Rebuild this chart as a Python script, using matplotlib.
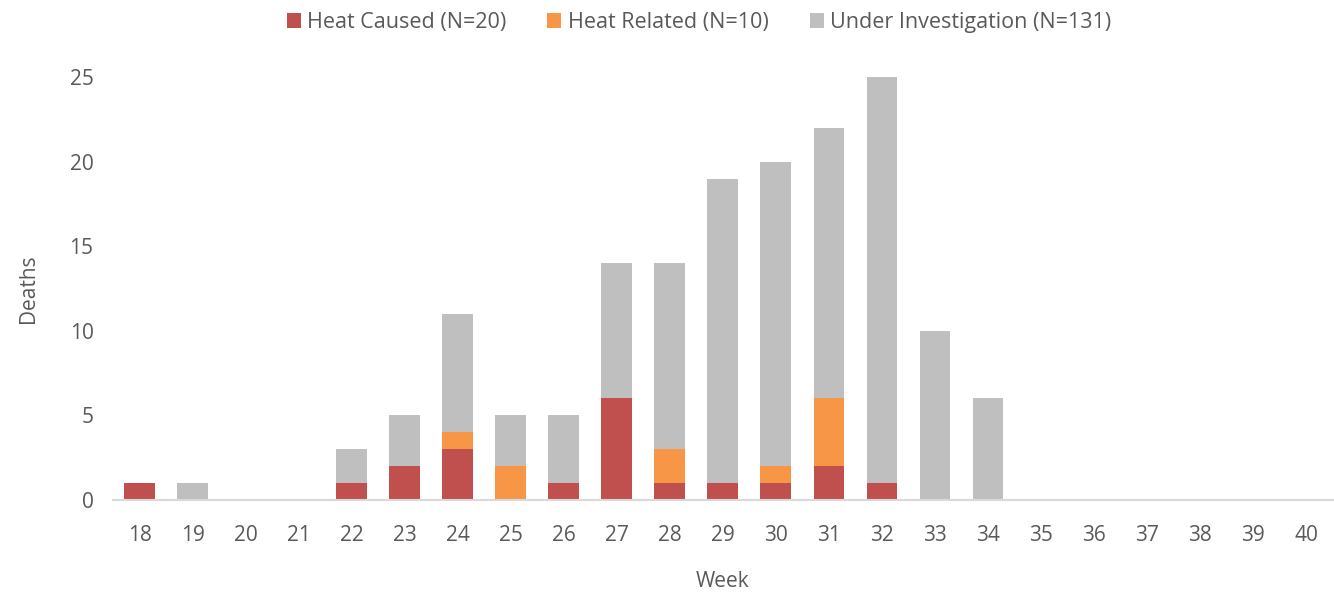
import matplotlib
matplotlib.use("Agg")
import matplotlib.pyplot as plt
import numpy as np

weeks = list(range(18, 41))
heat_caused = [1, 0, 0, 0, 1, 2, 3, 0, 1, 6, 1, 1, 1, 2, 1, 0, 0, 0, 0, 0, 0, 0, 0]
heat_related = [0, 0, 0, 0, 0, 0, 1, 2, 0, 0, 2, 0, 1, 4, 0, 0, 0, 0, 0, 0, 0, 0, 0]
under_investigation = [0, 1, 0, 0, 2, 3, 7, 3, 4, 8, 11, 18, 18, 16, 24, 10, 6, 0, 0, 0, 0, 0, 0]
labels = ["Heat Caused (N=20)", "Heat Related (N=10)", "Under Investigation (N=131)"]
colors = ["#C0504D", "#F79646", "#BFBFBF"]

plt.rcParams['font.family'] = ['Open Sans', 'DejaVu Sans']
txt = "#595959"

fig = plt.figure(figsize=(13.34, 5.95), dpi=100)
ax = fig.add_axes([0.0847, 0.1597, 0.9143, 0.7109])
x = np.arange(len(weeks))
hc = np.array(heat_caused)
hr = np.array(heat_related)
ui = np.array(under_investigation)
w = 0.58
ax.bar(x, hc, w, color=colors[0], label=labels[0])
ax.bar(x, hr, w, bottom=hc, color=colors[1], label=labels[1])
ax.bar(x, ui, w, bottom=hc + hr, color=colors[2], label=labels[2])

ax.set_xlim(-0.5, len(weeks) - 0.5)
ax.set_ylim(0, 25)
ax.set_yticks([0, 5, 10, 15, 20, 25])
ax.set_xticks(x)
ax.set_xticklabels([str(v) for v in weeks])
for s in ['top', 'right', 'left']:
    ax.spines[s].set_visible(False)
ax.spines['bottom'].set_color('#D9D9D9')
ax.spines['bottom'].set_linewidth(1.5)
ax.tick_params(axis='both', length=0, labelsize=15, colors=txt)
ax.tick_params(axis='x', pad=18)
ax.tick_params(axis='y', pad=14)
ax.set_xlabel("Week", fontsize=15, color=txt, labelpad=18)
ax.set_ylabel("Deaths", fontsize=15, color=txt, labelpad=22)
leg = fig.legend(loc='upper center', bbox_to_anchor=(0.524, 1.012), ncol=3, frameon=False,
                 fontsize=15.5, handlelength=0.65, handleheight=0.65, columnspacing=1.9,
                 handletextpad=0.3)
for t in leg.get_texts():
    t.set_color(txt)
fig.savefig("out.png", dpi=100)
